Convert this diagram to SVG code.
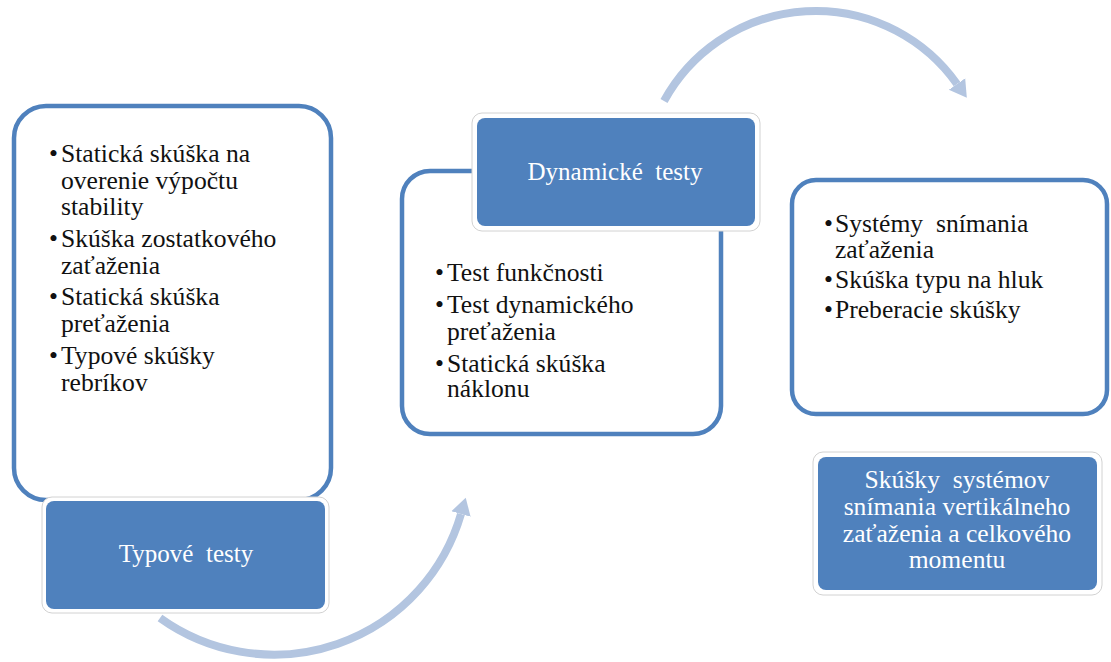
<svg xmlns="http://www.w3.org/2000/svg" width="1111" height="662" viewBox="0 0 1111 662">
  <style>
    .panel { fill: #ffffff; stroke: #4f81bd; stroke-width: 4.5; }
    .frame { fill: #ffffff; stroke: #d2d2d2; stroke-width: 1; }
    .head { fill: #4f81bd; stroke: none; }
    .body { font-family: "Liberation Serif", "Times New Roman", serif; font-size: 25.6px; fill: #111111; }
    .title { font-family: "Liberation Serif", "Times New Roman", serif; font-size: 25px; fill: #ffffff; text-anchor: middle; }
    .arc { fill: none; stroke: #b3c5e0; stroke-width: 8; }
  </style>
  <defs>
    <marker id="ah" markerUnits="userSpaceOnUse" markerWidth="18" markerHeight="22" refX="0" refY="11" orient="auto" viewBox="0 0 18 22">
      <path d="M0,1 L17,11 L0,21 Z" fill="#b3c5e0"/>
    </marker>
  </defs>
  <rect width="1111" height="662" fill="#ffffff"/>

  <g id="connectors">
    <path class="arc" d="M664,101 A173,173 0 0 1 957,84" marker-end="url(#ah)"/>
    <path class="arc" d="M160,618 A195,195 0 0 0 461,514" marker-end="url(#ah)"/>
  </g>

  <g id="node-typove">
    <rect class="panel" x="14" y="106" width="317" height="394" rx="32"/>
    <text class="body"><tspan x="49" y="162">•</tspan><tspan x="61" y="162">Statická skúška na</tspan><tspan x="61" y="189">overenie výpočtu</tspan><tspan x="61" y="215">stability</tspan><tspan x="49" y="247">•</tspan><tspan x="61" y="247">Skúška zostatkového</tspan><tspan x="61" y="274">zaťaženia</tspan><tspan x="49" y="305">•</tspan><tspan x="61" y="305">Statická skúška</tspan><tspan x="61" y="332">preťaženia</tspan><tspan x="49" y="364">•</tspan><tspan x="61" y="364">Typové skúšky</tspan><tspan x="61" y="391">rebríkov</tspan></text>
    <rect class="frame" x="42" y="497" width="287" height="116" rx="10"/>
    <rect class="head" x="46" y="501" width="279" height="108" rx="8"/>
    <text class="title" x="186" y="562">Typové&#160; testy</text>
  </g>

  <g id="node-dynamicke">
    <rect class="panel" x="402" y="171" width="319" height="263" rx="28"/>
    <text class="body"><tspan x="435" y="281">•</tspan><tspan x="447" y="281">Test funkčnosti</tspan><tspan x="435" y="313">•</tspan><tspan x="447" y="313">Test dynamického</tspan><tspan x="447" y="340">preťaženia</tspan><tspan x="435" y="372">•</tspan><tspan x="447" y="372">Statická skúška</tspan><tspan x="447" y="397">náklonu</tspan></text>
    <rect class="frame" x="472" y="113" width="288" height="118" rx="10"/>
    <rect class="head" x="477" y="118" width="278" height="108" rx="8"/>
    <text class="title" x="615" y="180">Dynamické&#160; testy</text>
  </g>

  <g id="node-systemy">
    <rect class="panel" x="792" y="180" width="315" height="234" rx="24"/>
    <text class="body"><tspan x="824" y="232">•</tspan><tspan x="835" y="232">Systémy&#160; snímania</tspan><tspan x="835" y="258">zaťaženia</tspan><tspan x="824" y="288">•</tspan><tspan x="835" y="288">Skúška typu na hluk</tspan><tspan x="824" y="318">•</tspan><tspan x="835" y="318">Preberacie skúšky</tspan></text>
    <rect class="frame" x="813" y="452" width="289" height="143" rx="10"/>
    <rect class="head" x="818" y="457" width="279" height="133" rx="8"/>
    <text class="title" style="font-size:25.6px"><tspan x="957" y="488">Skúšky&#160; systémov</tspan><tspan x="957" y="515">snímania vertikálneho</tspan><tspan x="957" y="542">zaťaženia a celkového</tspan><tspan x="957" y="568">momentu</tspan></text>
  </g>
</svg>
